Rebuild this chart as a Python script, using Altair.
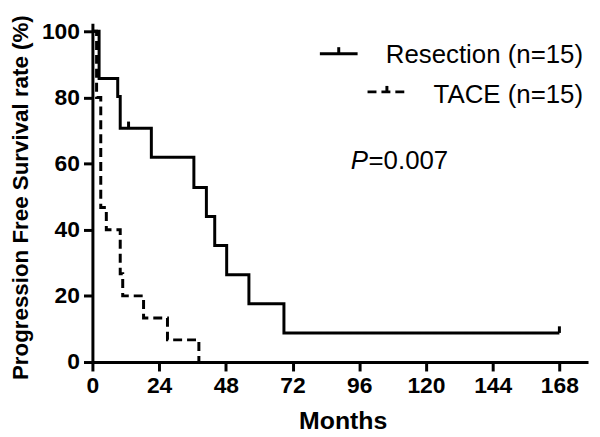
import altair as alt
import pandas as pd

# Kaplan-Meier step data
res_t = [0, 2.4, 9.1, 10.0, 21.2, 36.5, 41.0, 44.0, 48.3, 56.3, 68.9, 168]
res_s = [100, 85.7, 80.3, 70.7, 61.9, 52.8, 44.0, 35.2, 26.4, 17.6, 8.8, 8.8]
tace_t = [0, 1.5, 3.0, 5.0, 10.0, 10.9, 18.4, 27.0, 38.3]
tace_s = [100, 80.0, 46.7, 40.0, 26.7, 20.0, 13.3, 6.7, 0]
cens_t = [13.0, 168]
cens_s = [70.7, 8.8]
groups = ["Resection (n=15)", "TACE (n=15)"]
x_ticks = [0, 24, 48, 72, 96, 120, 144, 168]
y_ticks = [0, 20, 40, 60, 80, 100]

rows = [{"t": t, "s": s, "g": groups[0], "o": i} for i, (t, s) in enumerate(zip(res_t, res_s))]
rows += [{"t": t, "s": s, "g": groups[1], "o": i} for i, (t, s) in enumerate(zip(tace_t, tace_s))]
df = pd.DataFrame(rows)
cens = pd.DataFrame({"t": cens_t, "s": cens_s})

FONT = "Liberation Sans"
W, H = 499, 341

xs = alt.Scale(domain=[0, 178.3], nice=False, zero=False)
ys = alt.Scale(domain=[0, 102.4], nice=False)

xax = alt.Axis(values=x_ticks, title="Months", titleFontSize=25, titleFont=FONT,
               titleFontWeight="bold", titleX=252, titleY=67, titleBaseline="alphabetic",
               titleAlign="center", labelPadding=4, labelFlush=False, grid=False)
yax = alt.Axis(values=y_ticks, title="Progression Free Survival rate (%)", titleFontSize=22.5,
               titleFont=FONT, titleFontWeight="bold", titleAngle=270, titleX=-72, titleY=175,
               titleBaseline="middle", titleAlign="center", labelPadding=4, grid=False)

lines = alt.Chart(df).mark_line(interpolate="step-after", strokeWidth=3, color="black").encode(
    x=alt.X("t:Q", scale=xs, axis=xax),
    y=alt.Y("s:Q", scale=ys, axis=yax),
    strokeDash=alt.StrokeDash("g:N", scale=alt.Scale(domain=groups, range=[[1, 0], [9, 5]]), legend=None),
    detail="g:N",
    order="o:Q",
)

ticks = alt.Chart(cens).transform_calculate(s2="datum.s + 2").mark_rule(
    strokeWidth=3, color="black").encode(
    x="t:Q", y="s:Q", y2="s2:Q")

# manual legend and annotation
leg_text = alt.Chart(pd.DataFrame({"lab": groups, "yy": [39.7, 79.7]})).mark_text(
    align="right", baseline="alphabetic", font=FONT, fontSize=26, color="black").encode(
    x=alt.value(494), y=alt.Y("yy:Q", scale=None), text="lab:N")

leg_l1 = alt.Chart(pd.DataFrame({"a": [0]})).mark_rule(strokeWidth=3, color="black").encode(
    x=alt.value(229), x2=alt.value(267), y=alt.value(30.5))
leg_t1 = alt.Chart(pd.DataFrame({"a": [0]})).mark_rule(strokeWidth=3, color="black").encode(
    x=alt.value(248), y=alt.value(24), y2=alt.value(30.5))
leg_l2 = alt.Chart(pd.DataFrame({"a": [0]})).mark_rule(strokeWidth=3, color="black",
                                                        strokeDash=[9, 5]).encode(
    x=alt.value(277), x2=alt.value(315), y=alt.value(69))
leg_t2 = alt.Chart(pd.DataFrame({"a": [0]})).mark_rule(strokeWidth=3, color="black").encode(
    x=alt.value(296.5), y=alt.value(63), y2=alt.value(69))

p_it = alt.Chart(pd.DataFrame({"a": [0]})).mark_text(
    align="left", baseline="alphabetic", font=FONT, fontSize=26, fontStyle="italic",
    color="black", text="P").encode(x=alt.value(260), y=alt.value(146.3))
p_val = alt.Chart(pd.DataFrame({"a": [0]})).mark_text(
    align="left", baseline="alphabetic", font=FONT, fontSize=26, color="black",
    text="=0.007").encode(x=alt.value(278), y=alt.value(146.3))

chart = alt.layer(lines, ticks, leg_text, leg_l1, leg_t1, leg_l2, leg_t2, p_it, p_val).properties(
    width=W, height=H,
    autosize=alt.AutoSizeParams(type="none"),
    padding={"left": 85, "top": 14, "right": 4, "bottom": 70},
    background="white",
).configure_view(stroke=None).configure_axis(
    grid=False, domainColor="black", domainWidth=3, tickColor="black", tickWidth=3,
    tickSize=9, labelFont=FONT, labelFontSize=23, labelFontWeight="bold",
    labelColor="black", titleColor="black",
)

chart.save("out.html", embed_options={"renderer": "svg", "actions": False})
